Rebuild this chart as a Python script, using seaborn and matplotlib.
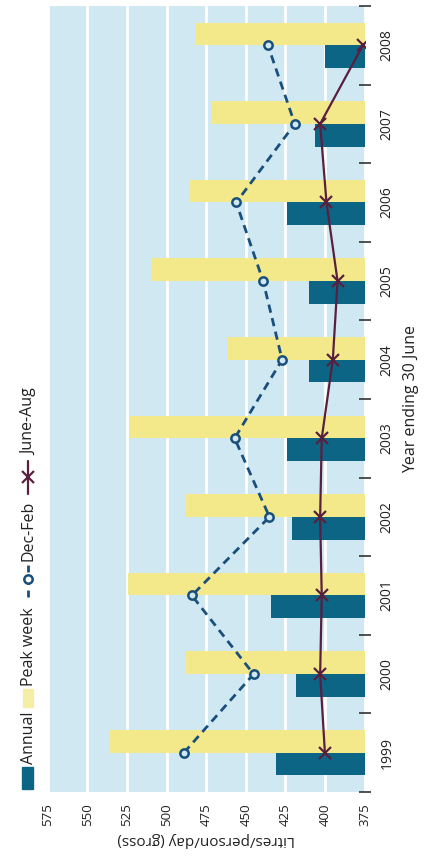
import numpy as np
import pandas as pd
import seaborn as sns
import matplotlib.pyplot as plt
from matplotlib.patches import Rectangle

years = ['1999', '2000', '2001', '2002', '2003', '2004', '2005', '2006', '2007', '2008']
annual = [431, 418, 434, 421, 424, 410, 410, 424, 406, 400]
peak_week = [536, 488, 524, 488, 523, 462, 510, 486, 472, 482]
dec_feb = [489, 445, 484, 435, 457, 427, 439, 456, 419, 436]
june_aug = [400, 403, 402, 403, 402, 395, 392, 399, 403, 376]
value_ticks = [375, 400, 425, 450, 475, 500, 525, 550, 575]

bg = '#cfe8f2'
teal = '#0d6585'
yellow = '#f3e98a'
navy = '#1a4f7c'
maroon = '#5a1f3e'

sns.set_theme(style='white')
plt.rcParams['font.family'] = ['Open Sans', 'DejaVu Sans']

fig = plt.figure(figsize=(4.24, 8.63), dpi=100)
W, H = 424, 863
ax = fig.add_axes([47.7 / W, 1 - 792 / H, (364.5 - 47.7) / W, (792 - 6) / H])

bars = pd.DataFrame({
    'year': years * 2,
    'series': ['Annual'] * len(years) + ['Peak week'] * len(years),
    'value': annual + peak_week,
})
sns.barplot(data=bars, x='value', y='year', hue='series', order=years,
            hue_order=['Annual', 'Peak week'], palette=[teal, yellow],
            orient='h', width=0.58, saturation=1, linewidth=0,
            errorbar=None, legend=False, ax=ax)

pos = np.arange(len(years))
sns.lineplot(x=dec_feb, y=pos, orient='y', color=navy, lw=2,
             linestyle=(0, (3, 2)), marker='o', ms=6, mfc=bg, mec=navy,
             mew=1.8, zorder=4, ax=ax)
sns.lineplot(x=june_aug, y=pos, orient='y', color=maroon, lw=1.6,
             marker='x', ms=9, mec=maroon, mew=1.6, zorder=5, ax=ax)

ax.set_facecolor(bg)
for s in ax.spines.values():
    s.set_visible(False)
ax.set_xlim(575, 375)
ax.set_ylim(-0.5, 9.5)
ax.set_xticks(value_ticks)
ax.set_xticklabels([str(v) for v in value_ticks], rotation=90)
ax.tick_params(axis='x', length=0, pad=8, labelsize=9.5, colors='#222222')
ax.xaxis.grid(True, color='white', lw=2)
ax.yaxis.grid(False)
ax.set_axisbelow(True)

ax.yaxis.tick_right()
ax.set_yticks(pos)
ax.set_yticklabels(years, rotation=90, va='center')
ax.set_yticks(np.arange(-0.5, len(years), 1), minor=True)
ax.tick_params(axis='y', which='major', length=0, pad=11, labelsize=10,
               colors='#222222')
ax.tick_params(axis='y', which='minor', length=9, width=1.2,
               direction='inout', color='#333333', right=True, left=False)
ax.yaxis.set_label_position('right')
ax.set_ylabel('Year ending 30 June', fontsize=11.5, labelpad=6, color='#222222')
ax.set_xlabel('Litres/person/day (gross)', rotation=180, fontsize=11,
              labelpad=4, color='#222222')

# legend drawn in pixel coordinates, rotated like the chart
lax = fig.add_axes([0, 0, 46 / W, 1])
lax.set_xlim(0, 46)
lax.set_ylim(H, 0)
lax.axis('off')
lax.add_patch(Rectangle((22, 767), 11, 22, color=teal))
lax.text(29, 764, 'Annual', rotation=90, ha='center', va='bottom',
         fontsize=11.5, color='#222222')
lax.add_patch(Rectangle((23, 689), 10, 18, color='#f5eea6'))
lax.text(29, 686, 'Peak week', rotation=90, ha='center', va='bottom',
         fontsize=11.5, color='#222222')
lax.plot([28, 28], [597, 561], color=navy, lw=2, ls=(0, (2.5, 2)))
lax.plot([28], [579], marker='o', ms=6, mfc='white', mec=navy, mew=1.8)
lax.text(29, 561, 'Dec-Feb', rotation=90, ha='center', va='bottom',
         fontsize=11.5, color='#222222')
lax.plot([28, 28], [494, 461], color=maroon, lw=1.6)
lax.plot([28], [477], marker='x', ms=9, mec=maroon, mew=1.6)
lax.text(29, 455, 'June-Aug', rotation=90, ha='center', va='bottom',
         fontsize=11.5, color='#222222')

fig.savefig('out.png', dpi=100)
